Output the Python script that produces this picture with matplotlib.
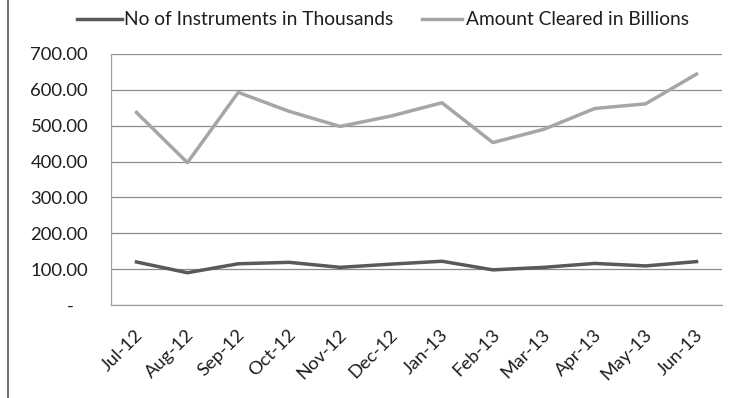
import matplotlib
matplotlib.use("Agg")
import matplotlib.pyplot as plt
from matplotlib.lines import Line2D
from matplotlib.ticker import FixedLocator, FuncFormatter
from matplotlib.transforms import ScaledTranslation

plt.rcParams['font.family'] = ['Lato', 'DejaVu Sans']

months = ["Jul-12", "Aug-12", "Sep-12", "Oct-12", "Nov-12", "Dec-12",
          "Jan-13", "Feb-13", "Mar-13", "Apr-13", "May-13", "Jun-13"]
instruments = [120, 90, 115, 119, 105, 114, 122, 98, 105, 116, 109, 121]
amount = [537, 397, 593, 540, 498, 527, 564, 453, 490, 548, 561, 644]
series_names = ["No of Instruments in Thousands", "Amount Cleared in Billions"]

dark = "#595959"
light = "#a6a6a6"
text_color = "#1e1e1e"

W, H = 738, 398
fig = plt.figure(figsize=(W / 100, H / 100), dpi=100)
ax = fig.add_axes([111 / W, 1 - 305 / H, (722 - 111) / W, (305 - 54) / H])

x = list(range(len(months)))
ax.plot(x, instruments, color=dark, lw=2.5, solid_joinstyle="round")
ax.plot(x, amount, color=light, lw=2.5, solid_joinstyle="round")

ax.set_xlim(-0.5, len(months) - 0.5)
ax.set_ylim(0, 700)
ax.yaxis.set_major_locator(FixedLocator(range(0, 701, 100)))
# accounting style: zero shown as a dash set in from the right edge
ax.yaxis.set_major_formatter(FuncFormatter(lambda v, p: "-   " if v == 0 else f"{v:.2f}"))
ax.grid(axis="y", color="#8c8c8c", lw=0.9)
ax.set_axisbelow(True)

ax.set_xticks(x)
ax.set_xticklabels(months, rotation=45, ha="right", va="center", rotation_mode="anchor")
ax.tick_params(axis="both", length=0, labelsize=13.3, colors=text_color)
ax.tick_params(axis="y", pad=16.5)
ax.tick_params(axis="x", pad=19.5)
shift = ScaledTranslation(4 / 100, 0, fig.dpi_scale_trans)
for lbl in ax.get_xticklabels():
    lbl.set_transform(lbl.get_transform() + shift)

for side in ("top", "right"):
    ax.spines[side].set_visible(False)
for side in ("left", "bottom"):
    ax.spines[side].set_color("#a0a0a0")
    ax.spines[side].set_linewidth(0.9)

# legend row along the top
legend_y = 1 - 19 / H
for (x0, x1, tx), color, name in zip([(77, 122, 124), (422, 462, 466)], [dark, light], series_names):
    fig.add_artist(Line2D([x0 / W, x1 / W], [legend_y, legend_y], color=color, lw=2.5,
                          transform=fig.transFigure))
    fig.text(tx / W, 1 - 25 / H, name, ha="left", va="baseline", fontsize=13.8,
             color=text_color)

# chart frame edge on the left
fig.add_artist(Line2D([8 / W, 8 / W], [0, 1], color="#707070", lw=1.4,
                      transform=fig.transFigure))

fig.savefig("out.png", dpi=100)
